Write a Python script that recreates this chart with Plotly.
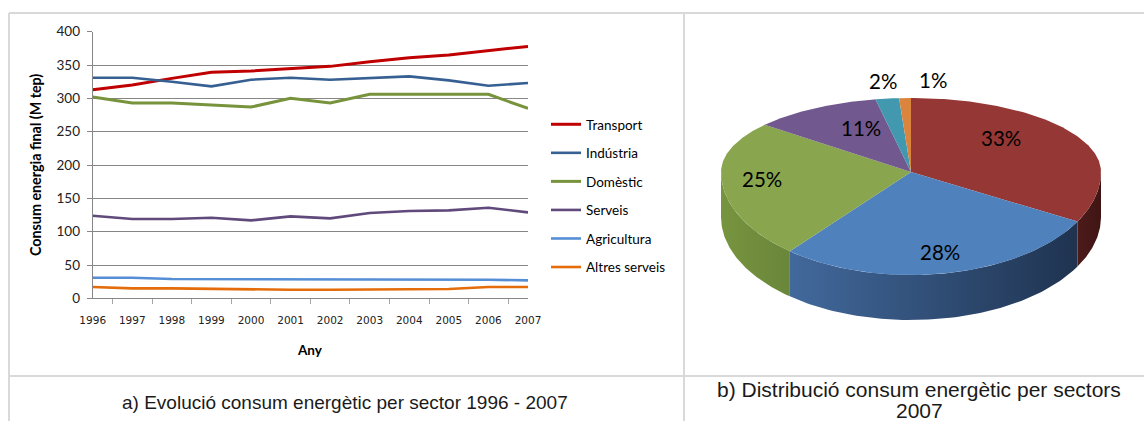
import numpy as np
import plotly.graph_objects as go

# ---- Data: final energy consumption by sector (M tep) ----
years = [str(y) for y in range(1996, 2008)]
transport = [313, 320, 330, 339, 341, 344, 348, 355, 361, 365, 372, 378]
industria = [331, 331, 325, 318, 328, 331, 328, 331, 333, 327, 319, 323]
domestic = [302, 293, 293, 290, 287, 300, 293, 306, 306, 307, 306, 285]
serveis = [124, 119, 119, 121, 117, 123, 120, 128, 131, 132, 136, 129]
agricultura = [31, 31, 29, 29, 29, 29, 29, 29, 29, 29, 28, 27]
altres = [17, 15, 15, 14, 14, 13, 13, 13, 14, 14, 17, 17]

series_names = ["Transport", "Indústria", "Domèstic", "Serveis", "Agricultura", "Altres serveis"]
series_values = [transport, industria, domestic, serveis, agricultura, altres]

# ---- Data: 2007 share by sector (%) ----
share_labels = ["Transport", "Indústria", "Domèstic", "Serveis", "Agricultura", "Altres serveis"]
share_2007 = [33, 28, 25, 11, 2, 1]

# ---- Styles ----
line_colors = ["#c00000", "#376092", "#77933c", "#604a7b", "#558ed5", "#e46c0a"]
line_widths = [3, 2.6, 3, 2.6, 2.6, 2.6]
top_colors = ["#953735", "#4f81bd", "#89a54e", "#71588f", "#4198af", "#db843d"]
side_colors = [("#4c1b1a", "#3f1514"), ("#42699c", "#1f3350"), ("#77943f", "#6a863a"),
               ("#5a466f", "#4a3a5c"), ("#347a8c", "#2d6a7a"), ("#b06a30", "#9a5c28")]
# fine placement of the percentage labels (pixels)
label_nudge = {0: (-28, -7), 1: (3, 7), 2: (-13, 0), 3: (20, 2), 4: (-4, 0), 5: (28, 0)}

W, H = 1144, 421
GRID = "#868686"
BORDER = "#d9d9d9"


def px_x(v):
    return v / W


def px_y(v):
    return (H - v) / H


fig = go.Figure()

# ---- Line chart ----
for name, vals, col, lw in zip(series_names, series_values, line_colors, line_widths):
    fig.add_trace(go.Scatter(
        x=years, y=vals, name=name, mode="lines",
        line=dict(color=col, width=lw), legendgroup=name,
        xaxis="x", yaxis="y", hoverinfo="x+y+name",
    ))

# ---- 3D-style pie drawn as elliptical slices ----
CX, AY = 911.0, 172.0        # apex of the slices (page pixels)
RX, RY_BACK, RY_FRONT = 190.0, 74.0, 103.0
DEPTH = 45.0


def rim(theta_deg):
    t = np.radians(theta_deg)
    c = np.cos(t)
    x = CX + RX * np.sin(t)
    y = AY - np.where(c > 0, RY_BACK, RY_FRONT) * c
    return x, y


total = float(sum(share_2007))
bounds = np.concatenate([[0.0], np.cumsum(share_2007) / total * 360.0])

# front side walls (visible between 90 and 270 degrees)
for i in range(len(share_2007)):
    lo, hi = max(bounds[i], 90.0), min(bounds[i + 1], 270.0)
    if lo >= hi:
        continue
    th = np.linspace(lo, hi, 80)
    xt, yt = rim(th)
    xs = np.concatenate([xt, xt[::-1], xt[:1]])
    ys = np.concatenate([yt, (yt + DEPTH)[::-1], yt[:1]])
    c0, c1 = side_colors[i]
    fig.add_trace(go.Scatter(
        x=xs, y=ys, mode="lines", fill="toself", line=dict(width=0),
        fillcolor=c0,
        fillgradient=dict(type="horizontal", colorscale=[[0, c0], [1, c1]]),
        showlegend=False, hoverinfo="skip", xaxis="x2", yaxis="y2",
    ))

# top faces
for i, lab in enumerate(share_labels):
    th = np.linspace(bounds[i], bounds[i + 1], 120)
    xt, yt = rim(th)
    xs = np.concatenate([[CX], xt, [CX]])
    ys = np.concatenate([[AY], yt, [AY]])
    fig.add_trace(go.Scatter(
        x=xs, y=ys, mode="lines", fill="toself", line=dict(width=0),
        fillcolor=top_colors[i], name=lab,
        showlegend=False, hoverinfo="name", xaxis="x2", yaxis="y2",
    ))

# percentage labels: inside for large slices, above the rim for small ones
annotations = []
for i, v in enumerate(share_2007):
    mid = (bounds[i] + bounds[i + 1]) / 2.0
    rx_, ry_ = rim(np.array([mid]))
    rx_, ry_ = float(rx_[0]), float(ry_[0])
    if v >= 5:
        f = 0.72
        lx, ly = CX + f * (rx_ - CX), AY + f * (ry_ - AY)
    else:
        lx, ly = rx_, ry_ - 18
    dx, dy = label_nudge.get(i, (0, 0))
    annotations.append(dict(
        x=lx + dx, y=ly + dy, xref="x2", yref="y2", text=f"{v}%", showarrow=False,
        font=dict(family="Lato", size=20.5, color="#000"),
    ))

# axis titles and captions
annotations += [
    dict(x=35, y=165, xref="x2", yref="y2", text="<b>Consum energia final (M tep)</b>",
         textangle=-90, showarrow=False, font=dict(family="Lato", size=14.3, color="#000")),
    dict(x=310, y=350, xref="x2", yref="y2", text="<b>Any</b>", showarrow=False,
         font=dict(family="Lato", size=13.5, color="#000")),
    dict(x=345, y=402, xref="x2", yref="y2",
         text="a) Evolució consum energètic per sector 1996 - 2007", showarrow=False,
         font=dict(family="Liberation Sans", size=19, color="#1a1a1a")),
    dict(x=919, y=389, xref="x2", yref="y2",
         text="b) Distribució consum energètic per sectors", showarrow=False,
         font=dict(family="Liberation Sans", size=21, color="#1a1a1a")),
    dict(x=919, y=410, xref="x2", yref="y2",
         text="2007", showarrow=False,
         font=dict(family="Liberation Sans", size=21, color="#1a1a1a")),
]

# table frame
shapes = [
    dict(type="line", xref="x2", yref="y2", x0=9, y0=13, x1=W, y1=13,
         line=dict(color=BORDER, width=2)),
    dict(type="line", xref="x2", yref="y2", x0=9, y0=13, x1=9, y1=H,
         line=dict(color=BORDER, width=2)),
    dict(type="line", xref="x2", yref="y2", x0=684, y0=13, x1=684, y1=H,
         line=dict(color=BORDER, width=2)),
    dict(type="line", xref="x2", yref="y2", x0=9, y0=376, x1=W, y1=376,
         line=dict(color=BORDER, width=2)),
]

fig.update_layout(
    width=W, height=H, autosize=False,
    margin=dict(l=0, r=0, t=0, b=0, pad=0, autoexpand=False),
    paper_bgcolor="white", plot_bgcolor="rgba(0,0,0,0)",
    showlegend=True,
    legend=dict(x=px_x(546), y=px_y(109), xanchor="left", yanchor="top",
                font=dict(family="Lato", size=13.5, color="#000"),
                bgcolor="rgba(0,0,0,0)", tracegroupgap=8, traceorder="grouped",
                itemwidth=30),
    xaxis=dict(domain=[px_x(92.7), px_x(528)], type="category", anchor="y",
               tickson="boundaries", ticks="outside", ticklen=5, tickcolor="#a6a6a6",
               showline=True, linecolor=GRID, linewidth=1, showgrid=False,
               tickfont=dict(family="DejaVu Sans", size=10.5, color="#222"),
               ticklabelstandoff=12, fixedrange=True, automargin=False),
    yaxis=dict(domain=[px_y(298.4), px_y(31.7)], range=[0, 400], dtick=50,
               anchor="x", showgrid=True, gridcolor=GRID, gridwidth=1,
               showline=True, linecolor=GRID, linewidth=1, zeroline=False,
               ticks="outside", ticklen=5, tickcolor=GRID,
               tickfont=dict(family="Lato", size=13.5, color="#222"),
               ticklabelstandoff=4, fixedrange=True, automargin=False),
    xaxis2=dict(domain=[0, 1], range=[0, W], anchor="y2", visible=False,
                fixedrange=True, automargin=False),
    yaxis2=dict(domain=[0, 1], range=[H, 0], anchor="x2", visible=False,
                fixedrange=True, automargin=False),
    annotations=annotations,
    shapes=shapes,
)

fig.write_html("out.html")
